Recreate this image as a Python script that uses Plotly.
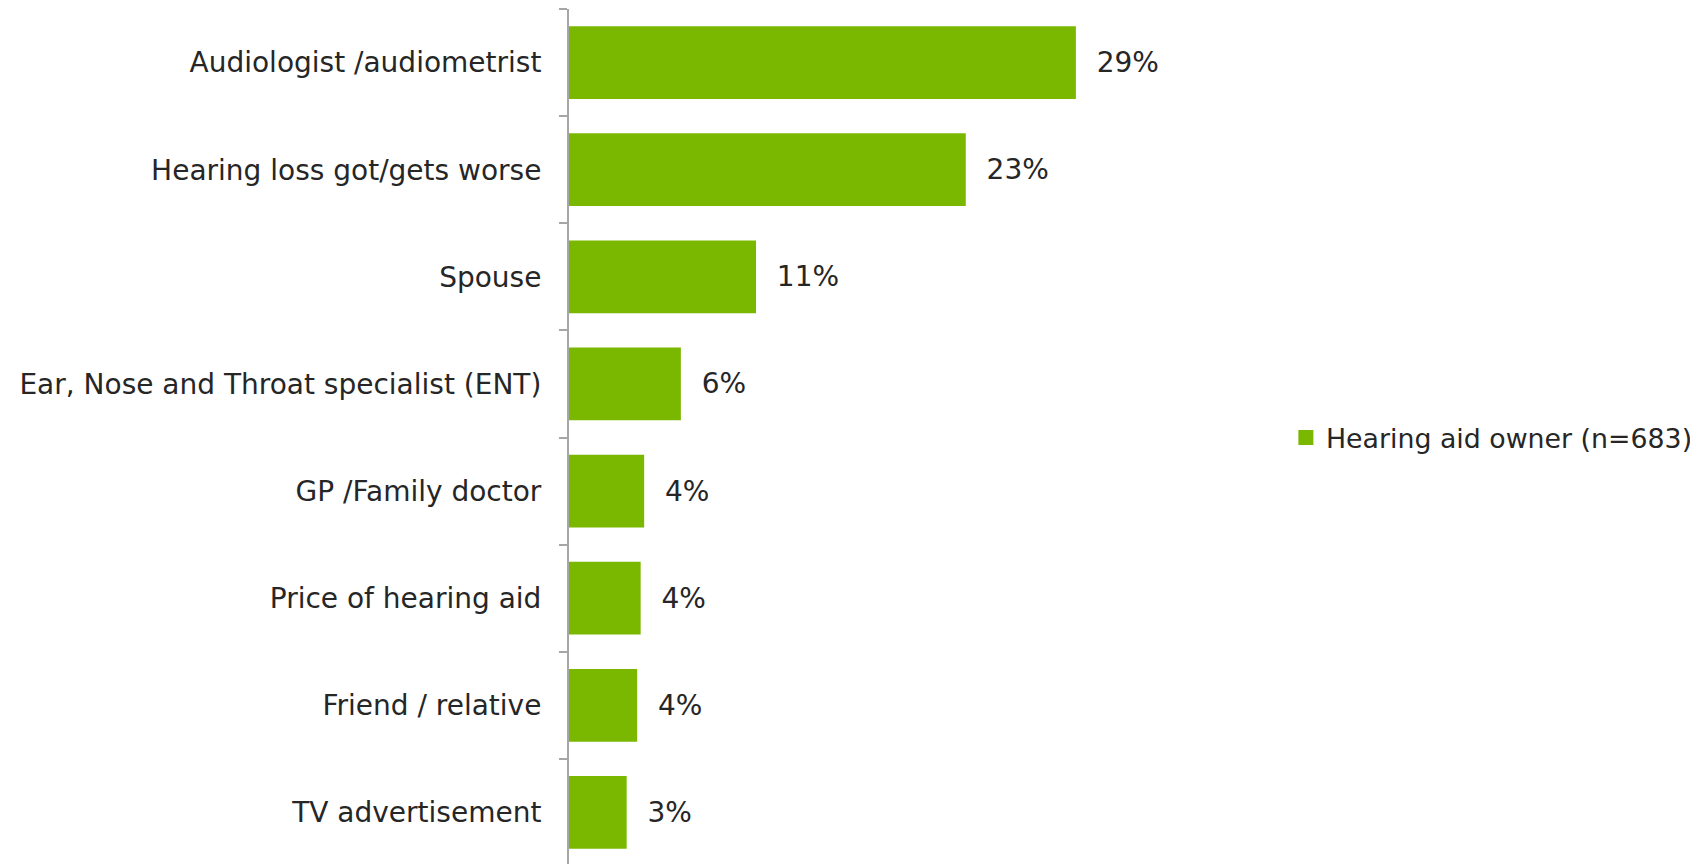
import plotly.graph_objects as go

CATEGORIES = [
    "Audiologist /audiometrist",
    "Hearing loss got/gets worse",
    "Spouse",
    "Ear, Nose and Throat specialist (ENT)",
    "GP /Family doctor",
    "Price of hearing aid",
    "Friend / relative",
    "TV advertisement",
]
VALUES = [29.0, 22.7, 10.7, 6.4, 4.3, 4.1, 3.9, 3.3]
LABELS = ["29%", "23%", "11%", "6%", "4%", "4%", "4%", "3%"]
SERIES = "Hearing aid owner (n=683)"

GREEN = "#7ab800"
TXT = "#262626"
AXIS = "#a6a6a6"
FONT = "DejaVu Sans"
FS = 28

fig = go.Figure()
fig.add_trace(go.Bar(
    y=CATEGORIES, x=VALUES, orientation="h",
    marker=dict(color=GREEN, line=dict(width=0)),
    width=0.68,
    text=["  " + t for t in LABELS], textposition="outside",
    textfont=dict(color=TXT, size=FS, family=FONT),
    cliponaxis=False,
    showlegend=False,
))
# legend entry with a larger square swatch
fig.add_trace(go.Scatter(
    x=[None], y=[None], mode="markers", name=SERIES,
    marker=dict(symbol="square", size=15, color=GREEN),
))

fig.update_layout(
    width=1698, height=864,
    paper_bgcolor="white", plot_bgcolor="white",
    margin=dict(l=561, r=0, t=1, b=6),
    font=dict(family=FONT, color=TXT, size=FS),
    xaxis=dict(visible=False, range=[0, 65.05]),
    yaxis=dict(
        autorange="reversed", tickson="boundaries", ticks="outside",
        ticklen=8, tickcolor=AXIS, tickwidth=2,
        showline=True, linecolor=AXIS, linewidth=2,
        showgrid=False, ticklabelstandoff=20,
        tickfont=dict(size=FS, color=TXT, family=FONT),
    ),
    legend=dict(x=0.6305, y=0.5, xanchor="left", yanchor="middle",
                font=dict(size=26.8, color=TXT, family=FONT),
                bgcolor="rgba(0,0,0,0)"),
)

fig.write_html("out.html")
